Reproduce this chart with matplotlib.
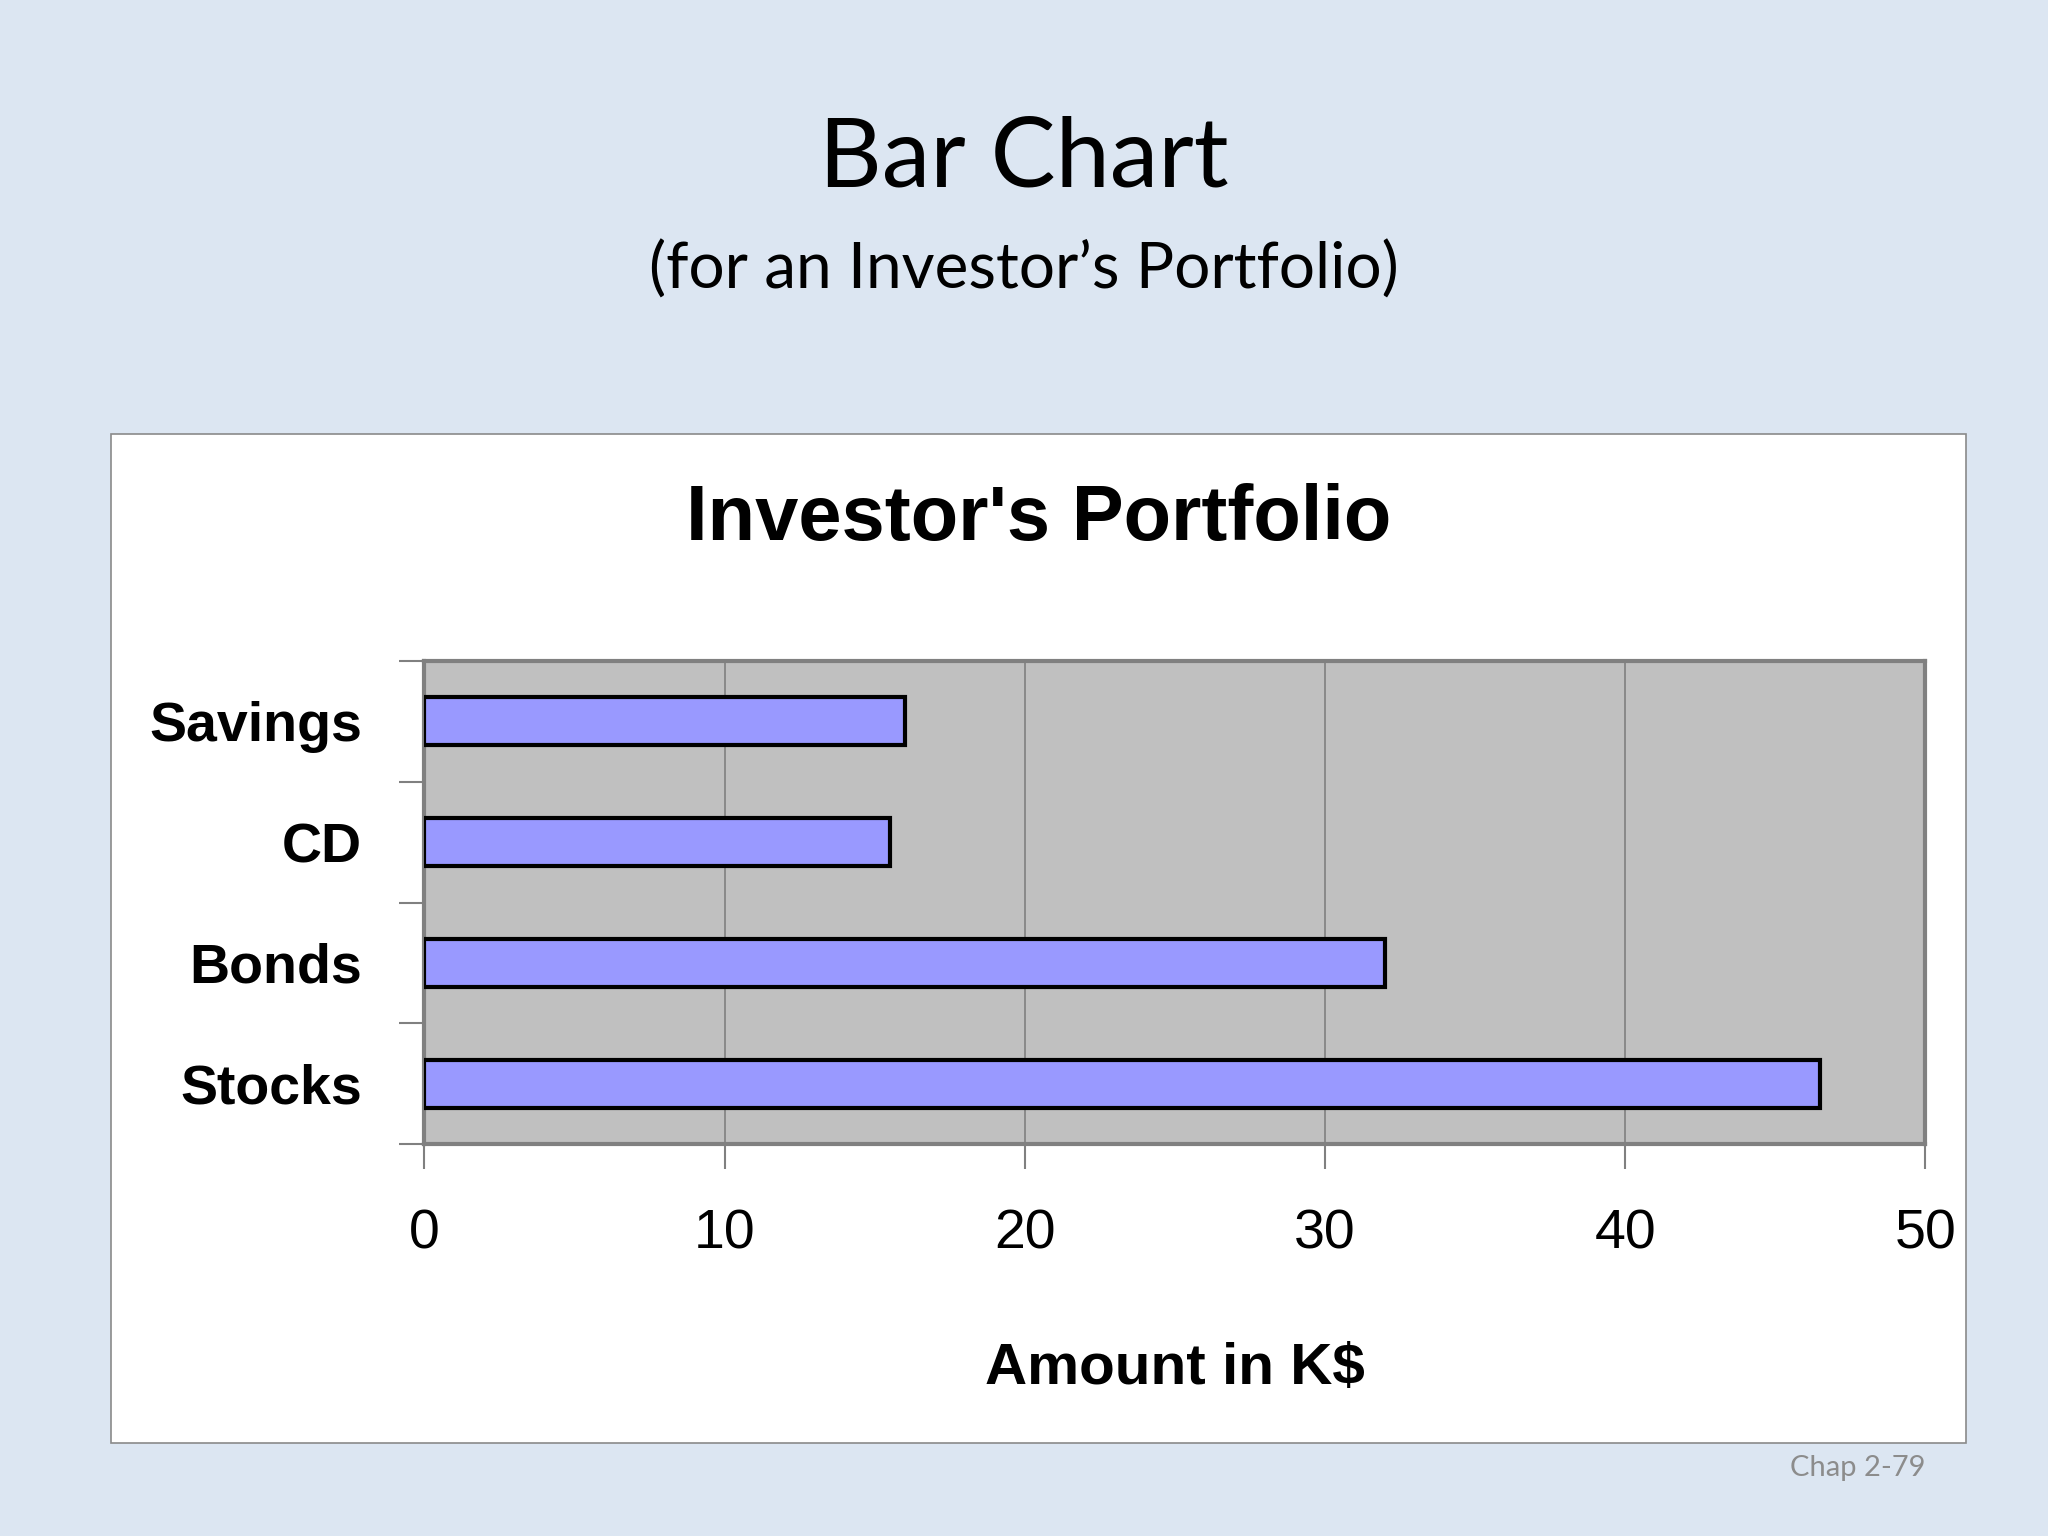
import matplotlib
matplotlib.use('Agg')
import matplotlib.pyplot as plt
from matplotlib.patches import Rectangle

# Portfolio data (K$), bottom to top
categories = ["Stocks", "Bonds", "CD", "Savings"]
amounts = [46.5, 32.0, 15.5, 16.0]
x_ticks = [0, 10, 20, 30, 40, 50]

W, H = 1568, 1176  # reference layout units

fig = plt.figure(figsize=(20.48, 15.36), dpi=100)
fig.patch.set_facecolor('#dce6f2')

# white chart box, kept behind the axes
fig.patches.append(Rectangle((85 / W, 1 - 1105 / H), (1505 - 85) / W, (1105 - 332) / H,
                             transform=fig.transFigure, facecolor='white',
                             edgecolor='#8a8a8a', linewidth=1.2, zorder=-5))

fig.text(0.5, 1 - 122 / H, "Bar Chart", ha='center', va='center',
         fontsize=70, family='Lato')
fig.text(0.5, 1 - 207 / H, "(for an Investor\u2019s Portfolio)", ha='center', va='center',
         fontsize=46, family='Lato')
fig.text(1474 / W, 1 - 1124 / H, "Chap 2-79", ha='right', va='center',
         fontsize=21, family='Lato', color='#8c8c8c')
fig.text(795 / W, 1 - 398 / H, "Investor's Portfolio", ha='center', va='center',
         fontsize=56, family='Liberation Sans', fontweight='bold')

ax = fig.add_axes([325 / W, 1 - 876 / H, (1474 - 325) / W, (876 - 506) / H])
ax.set_zorder(5)
ax.set_facecolor('#c0c0c0')
ax.barh(range(len(categories)), amounts, height=0.4, color='#9999ff',
        edgecolor='black', linewidth=3, zorder=3)
ax.set_xlim(0, 50)
ax.set_ylim(-0.5, len(categories) - 0.5)
ax.set_xticks(x_ticks)
ax.set_xticklabels([str(t) for t in x_ticks], family='Liberation Sans', fontsize=40)
ax.set_yticks(range(len(categories)))
ax.set_yticklabels(categories, family='Liberation Sans', fontsize=40, fontweight='bold')
ax.set_yticks([i - 0.5 for i in range(len(categories) + 1)], minor=True)
ax.tick_params(axis='y', which='major', length=0, pad=45)
ax.tick_params(axis='y', which='minor', length=18, color='#808080', width=1.5)
ax.tick_params(axis='x', length=18, color='#808080', width=1.5, pad=28)
ax.grid(axis='x', color='#808080', linewidth=1.2, zorder=0)
for s in ax.spines.values():
    s.set_color('#808080')
    s.set_linewidth(3)
ax.set_xlabel("Amount in K$", family='Liberation Sans', fontsize=42,
              fontweight='bold')
ax.xaxis.set_label_coords(0.5, -0.41)

fig.savefig("out.png", dpi=100, facecolor=fig.get_facecolor())
